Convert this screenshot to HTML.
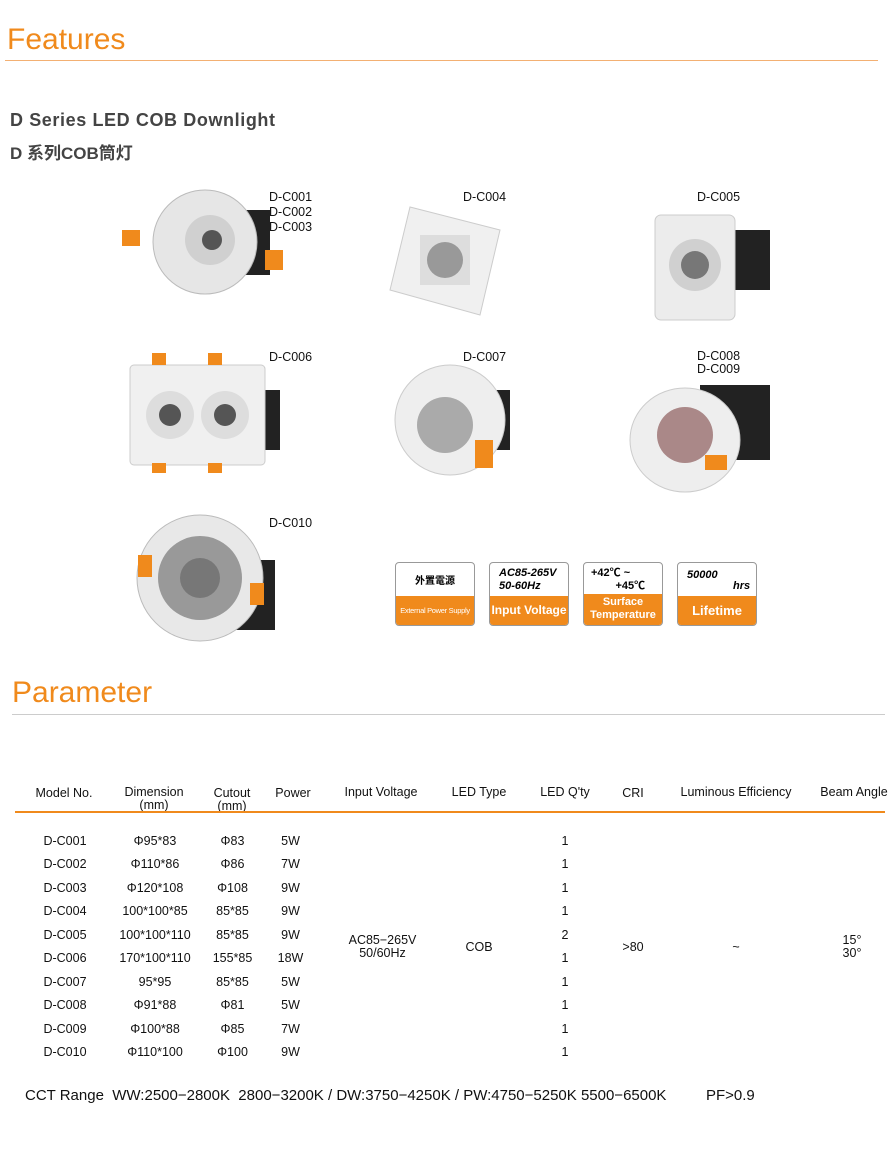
<!DOCTYPE html>
<html><head><meta charset="utf-8"><style>
body{margin:0;width:895px;height:1155px;background:#fff;position:relative;font-family:"Liberation Sans","Noto Sans CJK SC",sans-serif;overflow:hidden}
.a{position:absolute;white-space:nowrap}
.h{color:#f08a1c;font-size:30px;font-family:"Liberation Sans",sans-serif}
.lbl{font-size:12.5px;color:#111;line-height:15px}
.ic{position:absolute;width:78px;height:62px;border:1px solid #999;border-radius:4px;overflow:hidden;background:#fff}
.ic .b{position:absolute;left:0;right:0;bottom:0;height:29px;background:#f08a1c;color:#fff;font-weight:bold;text-align:center;font-size:12px;line-height:13px}
.t{font-size:12.5px;color:#111;text-align:center;position:absolute}
.hd{font-size:12.5px;color:#111;position:absolute;text-align:center;line-height:13px}
</style></head><body>
<div class="a h" style="left:7px;top:23px">Features</div>
<div class="a" style="left:5px;top:60px;width:873px;height:1px;background:#f3b073"></div>
<div class="a" style="left:10px;top:110px;font-size:18px;color:#444;font-weight:bold;letter-spacing:.6px">D Series LED COB Downlight</div>
<div class="a" style="left:10px;top:139px;font-size:17px;color:#444;font-weight:bold">D 系列COB筒灯</div>

<svg class="a" style="left:100px;top:185px" width="700" height="460">
 <rect x="95" y="25" width="75" height="65" fill="#222"/>
 <circle cx="105" cy="57" r="52" fill="#e6e6e6" stroke="#bbb"/>
 <circle cx="110" cy="55" r="25" fill="#d0d0d0"/><circle cx="112" cy="55" r="10" fill="#555"/>
 <rect x="22" y="45" width="18" height="16" fill="#f08a1c"/><rect x="165" y="65" width="18" height="20" fill="#f08a1c"/>
 <polygon points="310,22 400,45 380,130 290,105" fill="#f0f0f0" stroke="#ccc"/>
 <rect x="320" y="50" width="50" height="50" fill="#ddd"/><circle cx="345" cy="75" r="18" fill="#999"/>
 <rect x="600" y="45" width="70" height="60" fill="#222"/>
 <rect x="555" y="30" width="80" height="105" rx="6" fill="#ececec" stroke="#ccc"/>
 <circle cx="595" cy="80" r="26" fill="#d0d0d0"/><circle cx="595" cy="80" r="14" fill="#777"/>
 <rect x="130" y="205" width="50" height="60" fill="#222"/>
 <rect x="30" y="180" width="135" height="100" rx="4" fill="#f0f0f0" stroke="#ccc"/>
 <circle cx="70" cy="230" r="24" fill="#ddd"/><circle cx="125" cy="230" r="24" fill="#ddd"/>
 <circle cx="70" cy="230" r="11" fill="#555"/><circle cx="125" cy="230" r="11" fill="#555"/>
 <rect x="52" y="168" width="14" height="12" fill="#f08a1c"/><rect x="108" y="168" width="14" height="12" fill="#f08a1c"/>
 <rect x="52" y="278" width="14" height="10" fill="#f08a1c"/><rect x="108" y="278" width="14" height="10" fill="#f08a1c"/>
 <rect x="360" y="205" width="50" height="60" fill="#222"/>
 <circle cx="350" cy="235" r="55" fill="#eee" stroke="#ccc"/><circle cx="345" cy="240" r="28" fill="#aaa"/>
 <rect x="375" y="255" width="18" height="28" fill="#f08a1c"/>
 <rect x="600" y="200" width="70" height="75" fill="#222"/>
 <ellipse cx="585" cy="255" rx="55" ry="52" fill="#eee" stroke="#ccc"/><circle cx="585" cy="250" r="28" fill="#a88"/>
 <rect x="605" y="270" width="22" height="15" fill="#f08a1c"/>
 <rect x="120" y="375" width="55" height="70" fill="#222"/>
 <circle cx="100" cy="393" r="63" fill="#e8e8e8" stroke="#bbb"/><circle cx="100" cy="393" r="42" fill="#999"/><circle cx="100" cy="393" r="20" fill="#777"/>
 <rect x="38" y="370" width="14" height="22" fill="#f08a1c"/><rect x="150" y="398" width="14" height="22" fill="#f08a1c"/>
</svg>
<div class="a lbl" style="left:269px;top:190px">D-C001<br>D-C002<br>D-C003</div>
<div class="a lbl" style="left:463px;top:190px">D-C004</div>
<div class="a lbl" style="left:697px;top:190px">D-C005</div>
<div class="a lbl" style="left:269px;top:350px">D-C006</div>
<div class="a lbl" style="left:463px;top:350px">D-C007</div>
<div class="a lbl" style="left:697px;top:350px;line-height:13px">D-C008<br>D-C009</div>
<div class="a lbl" style="left:269px;top:516px">D-C010</div>

<div class="ic" style="left:395px;top:562px"><div class="a" style="left:0;right:0;top:9px;text-align:center;font-size:10px;font-weight:bold">外置電源</div><div class="b" style="font-size:7.5px;font-weight:normal;line-height:29px;letter-spacing:-.3px">External Power Supply</div></div>
<div class="ic" style="left:489px;top:562px"><div class="a" style="left:9px;top:4px;font-size:11px;font-weight:bold;font-style:italic;line-height:13px">AC85-265V<br>50-60Hz</div><div class="b" style="line-height:29px">Input Voltage</div></div>
<div class="ic" style="left:583px;top:562px"><div class="a" style="left:7px;top:4px;font-size:11px;font-weight:bold;line-height:13px">+42℃ ~<br>&nbsp;&nbsp;&nbsp;&nbsp;&nbsp;&nbsp;&nbsp;&nbsp;+45℃</div><div class="b" style="padding-top:2px;font-size:11px">Surface<br>Temperature</div></div>
<div class="ic" style="left:677px;top:562px"><div class="a" style="left:9px;top:6px;font-size:11px;font-weight:bold;font-style:italic">50000</div><div class="a" style="left:55px;top:17px;font-size:11px;font-weight:bold;font-style:italic">hrs</div><div class="b" style="line-height:29px;font-size:13px">Lifetime</div></div>

<div class="a h" style="left:12px;top:676px">Parameter</div>
<div class="a" style="left:12px;top:714px;width:873px;height:1px;background:#ccc"></div>

<div class="hd" style="left:20px;top:787px;width:88px">Model No.</div>
<div class="hd" style="left:114px;top:786px;width:80px">Dimension<br>(mm)</div>
<div class="hd" style="left:208px;top:787px;width:48px">Cutout<br>(mm)</div>
<div class="hd" style="left:268px;top:787px;width:50px">Power</div>
<div class="hd" style="left:335px;top:786px;width:92px">Input Voltage</div>
<div class="hd" style="left:444px;top:786px;width:70px">LED Type</div>
<div class="hd" style="left:530px;top:786px;width:70px">LED Q'ty</div>
<div class="hd" style="left:613px;top:787px;width:40px">CRI</div>
<div class="hd" style="left:672px;top:786px;width:128px">Luminous Efficiency</div>
<div class="hd" style="left:812px;top:786px;width:84px">Beam Angle</div>
<div class="a" style="left:15px;top:811px;width:870px;height:2px;background:#f08a1c"></div>

<div class="a" style="left:0;top:834px;width:895px">
<div class="t" style="left:20px;width:90px;top:0">D-C001</div><div class="t" style="left:110px;width:90px;top:0">Φ95*83</div><div class="t" style="left:205px;width:55px;top:0">Φ83</div><div class="t" style="left:268px;width:45px;top:0">5W</div><div class="t" style="left:545px;width:40px;top:0">1</div>
<div class="t" style="left:20px;width:90px;top:23px">D-C002</div><div class="t" style="left:110px;width:90px;top:23px">Φ110*86</div><div class="t" style="left:205px;width:55px;top:23px">Φ86</div><div class="t" style="left:268px;width:45px;top:23px">7W</div><div class="t" style="left:545px;width:40px;top:23px">1</div>
<div class="t" style="left:20px;width:90px;top:47px">D-C003</div><div class="t" style="left:110px;width:90px;top:47px">Φ120*108</div><div class="t" style="left:205px;width:55px;top:47px">Φ108</div><div class="t" style="left:268px;width:45px;top:47px">9W</div><div class="t" style="left:545px;width:40px;top:47px">1</div>
<div class="t" style="left:20px;width:90px;top:70px">D-C004</div><div class="t" style="left:110px;width:90px;top:70px">100*100*85</div><div class="t" style="left:205px;width:55px;top:70px">85*85</div><div class="t" style="left:268px;width:45px;top:70px">9W</div><div class="t" style="left:545px;width:40px;top:70px">1</div>
<div class="t" style="left:20px;width:90px;top:94px">D-C005</div><div class="t" style="left:110px;width:90px;top:94px">100*100*110</div><div class="t" style="left:205px;width:55px;top:94px">85*85</div><div class="t" style="left:268px;width:45px;top:94px">9W</div><div class="t" style="left:545px;width:40px;top:94px">2</div>
<div class="t" style="left:20px;width:90px;top:117px">D-C006</div><div class="t" style="left:110px;width:90px;top:117px">170*100*110</div><div class="t" style="left:205px;width:55px;top:117px">155*85</div><div class="t" style="left:268px;width:45px;top:117px">18W</div><div class="t" style="left:545px;width:40px;top:117px">1</div>
<div class="t" style="left:20px;width:90px;top:141px">D-C007</div><div class="t" style="left:110px;width:90px;top:141px">95*95</div><div class="t" style="left:205px;width:55px;top:141px">85*85</div><div class="t" style="left:268px;width:45px;top:141px">5W</div><div class="t" style="left:545px;width:40px;top:141px">1</div>
<div class="t" style="left:20px;width:90px;top:164px">D-C008</div><div class="t" style="left:110px;width:90px;top:164px">Φ91*88</div><div class="t" style="left:205px;width:55px;top:164px">Φ81</div><div class="t" style="left:268px;width:45px;top:164px">5W</div><div class="t" style="left:545px;width:40px;top:164px">1</div>
<div class="t" style="left:20px;width:90px;top:188px">D-C009</div><div class="t" style="left:110px;width:90px;top:188px">Φ100*88</div><div class="t" style="left:205px;width:55px;top:188px">Φ85</div><div class="t" style="left:268px;width:45px;top:188px">7W</div><div class="t" style="left:545px;width:40px;top:188px">1</div>
<div class="t" style="left:20px;width:90px;top:211px">D-C010</div><div class="t" style="left:110px;width:90px;top:211px">Φ110*100</div><div class="t" style="left:205px;width:55px;top:211px">Φ100</div><div class="t" style="left:268px;width:45px;top:211px">9W</div><div class="t" style="left:545px;width:40px;top:211px">1</div>
<div class="t" style="left:335px;width:95px;top:100px;line-height:13px">AC85−265V<br>50/60Hz</div>
<div class="t" style="left:445px;width:68px;top:106px">COB</div>
<div class="t" style="left:613px;width:40px;top:106px">&gt;80</div>
<div class="t" style="left:716px;width:40px;top:106px">~</div>
<div class="t" style="left:830px;width:44px;top:100px;line-height:13px">15°<br>30°</div>
</div>

<div class="a" style="left:25px;top:1087px;font-size:15px;color:#111">CCT Range&nbsp; WW:2500−2800K&nbsp; 2800−3200K / DW:3750−4250K / PW:4750−5250K 5500−6500K</div>
<div class="a" style="left:706px;top:1087px;font-size:15px;color:#111">PF&gt;0.9</div>
</body></html>
